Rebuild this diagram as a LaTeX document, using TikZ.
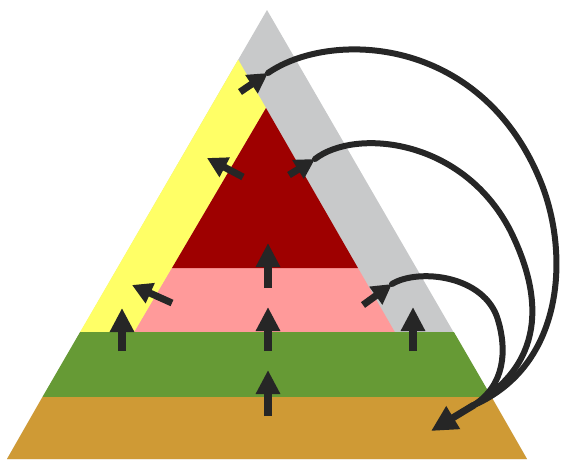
\documentclass[tikz,border=0pt]{standalone}
\usetikzlibrary{arrows.meta}
\definecolor{pgrey}{HTML}{C8C9CA}
\definecolor{pyellow}{HTML}{FFFF66}
\definecolor{pred}{HTML}{9E0000}
\definecolor{ppink}{HTML}{FF9A9A}
\definecolor{pgreen}{HTML}{669A35}
\definecolor{pbrown}{HTML}{CF9A35}
\definecolor{ink}{HTML}{262626}
\begin{document}
\begin{tikzpicture}[x=1pt,y=-1pt,
  straw/.style={draw=ink, line width=8pt, -{Triangle[length=24pt,width=23pt]}},
  shortw/.style={draw=ink, line width=7pt, -{Triangle[length=20pt,width=21pt]}},
  curvew/.style={draw=ink, line width=6pt, line cap=round}]
\useasboundingbox (0,0) rectangle (563,459);
% layers
\fill[pgrey] (267,10) -- (7,459) -- (527,459) -- cycle;
\fill[pyellow] (238.2,59.6) -- (80.1,332) -- (134.4,332) -- (266,108) -- cycle;
\fill[ppink] (172,268) -- (358,268) -- (394.8,332) -- (134.4,332) -- cycle;
\fill[pred] (266,108) -- (172,268) -- (358,268) -- cycle;
\fill[pgreen] (80.1,332) -- (453.9,332) -- (491.6,397) -- (42.4,397) -- cycle;
\fill[pbrown] (42.4,397) -- (491.6,397) -- (527,459) -- (7,459) -- cycle;
% coordinates
\coordinate (b0) at (268,416); \coordinate (b1) at (268,370);
\coordinate (g0) at (268,351); \coordinate (g1) at (268,307);
\coordinate (p0) at (268,288); \coordinate (p1) at (268,243);
\coordinate (l0) at (122,351); \coordinate (l1) at (122,308);
\coordinate (r0) at (413,351); \coordinate (r1) at (413,307);
\coordinate (py0) at (172,303); \coordinate (py1) at (132,285);
\coordinate (ry0) at (243,177); \coordinate (ry1) at (207,158);
\coordinate (yg0) at (240,92); \coordinate (yg1) at (268,73);
\coordinate (rg0) at (289,175); \coordinate (rg1) at (315,159);
\coordinate (pg0) at (363,305); \coordinate (pg1) at (392,284);
\coordinate (m) at (474,405); \coordinate (tip) at (431,431);
% straight arrows
\draw[straw] (b0) -- (b1);
\draw[straw] (g0) -- (g1);
\draw[straw] (p0) -- (p1);
\draw[straw] (l0) -- (l1);
\draw[straw] (r0) -- (r1);
\draw[shortw] (py0) -- (py1);
\draw[shortw] (ry0) -- (ry1);
\draw[shortw] (yg0) -- (yg1);
\draw[shortw] (rg0) -- (rg1);
\draw[shortw] (pg0) -- (pg1);
% curves
\draw[curvew] (yg1) .. controls (330,30) and (480,35) .. (540,180)
                    .. controls (570,252) and (565,365) .. (m);
\draw[curvew] (rg1) .. controls (355,128) and (462,138) .. (510,230)
                    .. controls (540,290) and (550,360) .. (m);
\draw[curvew] (pg1) .. controls (418,268) and (485,275) .. (498,320)
                    .. controls (507,350) and (505,385) .. (m);
\draw[draw=ink, line width=7pt, -{Triangle[length=26pt,width=25pt]}] (m) -- (tip);
\end{tikzpicture}
\end{document}
